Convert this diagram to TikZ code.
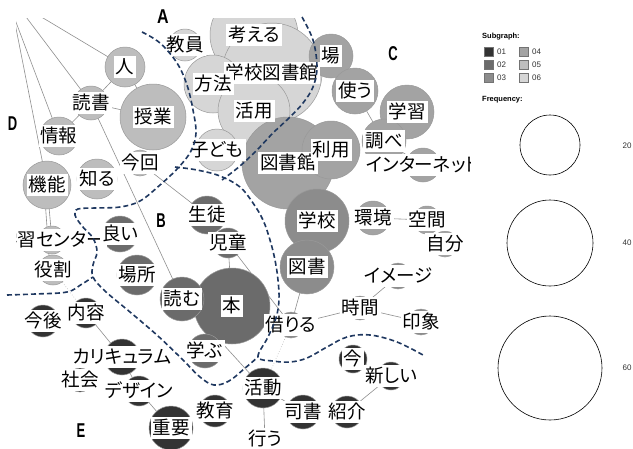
\documentclass[tikz,border=0pt]{standalone}
\usepackage{fontspec}
\usepackage{graphicx}
\newfontfamily\jp[RawFeature=+palt]{Noto Sans CJK JP}
\newfontfamily\lgf{Liberation Sans}
\definecolor{sgA}{HTML}{333333}
\definecolor{sgB}{HTML}{6B6B6B}
\definecolor{sgC}{HTML}{8C8C8C}
\definecolor{sgD}{HTML}{A3A3A3}
\definecolor{sgE}{HTML}{BDBDBD}
\definecolor{sgF}{HTML}{D6D6D6}
\definecolor{bnd}{HTML}{1F3860}
\definecolor{edgec}{HTML}{8F8F8F}
\tikzset{
  word/.style={fill=white, inner xsep=2pt, inner ysep=1.5pt, text height=15.5pt, text depth=3.5pt,
    font={\jp\fontsize{18.5}{20}\selectfont}},
  bub/.style={circle, draw=black!40, line width=0.5pt, inner sep=0pt},
  edgeline/.style={draw=edgec, line width=0.6pt},
  dotedge/.style={draw=edgec!70, line width=0.6pt, dotted},
  bound/.style={draw=bnd, line width=1.6pt, dash pattern=on 5pt off 3pt},
  grp/.style={font={\lgf\bfseries\fontsize{20}{20}\selectfont}, inner sep=0pt},
  lgtext/.style={font={\lgf\fontsize{8}{9}\selectfont}, text=black!80, inner sep=0pt},
  lgtitle/.style={font={\lgf\bfseries\fontsize{7.5}{8}\selectfont}, inner sep=0pt, anchor=west},
  lgsq/.style={draw=black!55, line width=0.4pt}
}
\def\nodelist{%
kangaeru/254/35/44/sgF/考える,
gtosho/272/73/50/sgF/学校図書館,
hoho/213/84/29/sgF/方法,
katsuyo/254/111/36/sgF/活用,
kyoin/185/45/16/sgF/教員,
kodomo/217/150/21/sgF/子ども,
hito/125/67/20/sgE/人,
jugyo/153/117/33/sgE/授業,
dokusho/91/103/17/sgE/読書,
joho/59/136/19/sgE/情報,
kino/47/185/24/sgE/機能,
shiru/97/179/20/sgE/知る,
konkai/140/163/13/sgE/今回,
center/52/240/14/sgE/学習センター,
yakuwari/53/270/15/sgE/役割,
ba/331/56/22/sgD/場,
tsukau/355/91/23/sgD/使う,
gakushu/407/112/27/sgD/学習,
toshokan/288/163/46/sgD/図書館,
riyo/331/150/29/sgD/利用,
shirabe/384/141/22/sgD/調べ,
internet/423/165/17/sgD/インターネット,
kankyo/373/218/17/sgD/環境,
kukan/427/220/14/sgD/空間,
jibun/445/244/13/sgD/自分,
gakko/317/221/32/sgC/学校,
tosho/307/267/27/sgC/図書,
kariru/291/325/13/sgC/借りる,
jikan/360/308/12/sgC/時間,
image/398/276/13/sgC/イメージ,
insho/421/322/13/sgC/印象,
seito/207/215/19/sgB/生徒,
jido/228/243/15/sgB/児童,
yoi/120/234/18/sgB/良い,
basho/137/275/20/sgB/場所,
hon/232/306/38/sgB/本,
yomu/182/299/22/sgB/読む,
manabu/205/351/17/sgB/学ぶ,
kongo/43/321/16/sgA/今後,
naiyo/86/313/15/sgA/内容,
kari/122/357/18/sgA/カリキュラム,
shakai/80/380/12/sgA/社会,
design/139/391/15/sgA/デザイン,
juyo/171/428/22/sgA/重要,
kyoiku/215/411/16/sgA/教育,
katsudo/263/388/20/sgA/活動,
okonau/265/439/9/sgA/行う,
shisho/303/412/17/sgA/司書,
shokai/347/412/16/sgA/紹介,
atarashii/391/376/14/sgA/新しい,
ima/353/359/14/sgA/今}
\begin{document}
\begin{tikzpicture}[x=1pt,y=-1pt]
\useasboundingbox (0,0) rectangle (633,448);
\fill[white] (0,0) rectangle (633,448);
% ---------------- network -----------------
\begin{scope}
\clip (16,18) rectangle (470,448);
\foreach \nm/\px/\py/\rad/\col/\txt in \nodelist {\coordinate (\nm) at (\px,\py);}
\coordinate (o1) at (18,3);
\coordinate (o2) at (14,1);
\coordinate (o3) at (8,1);
\coordinate (o4) at (11,3);
% edges
\draw[edgeline] (o1) -- (hito);
\draw[edgeline] (o2) -- (dokusho);
\draw[edgeline] (o3) -- (joho);
\draw[edgeline] (o4) -- (kino);
\draw[edgeline] (dokusho) -- (hito);
\draw[edgeline] (hito) -- (jugyo);
\draw[edgeline] (dokusho) -- (jugyo);
\draw[edgeline] (dokusho) -- (joho);
\draw[edgeline] (dokusho) -- (yomu);
\draw[edgeline] (konkai) -- (seito);
\draw[edgeline] (kino) -- (center);
\draw[edgeline] ([xshift=-3pt]kino) -- ([xshift=-3pt]yakuwari);
\draw[dotedge] (yakuwari) -- (naiyo);
\draw[edgeline] (naiyo) -- (kari);
\draw[edgeline] (kari) -- (design);
\draw[edgeline] (design) -- (juyo);
\draw[edgeline] (yomu) -- (katsudo);
\draw[edgeline] (jido) -- (hon);
\draw[edgeline] (jido) -- (kariru);
\draw[edgeline] (tosho) -- (kariru);
\draw[edgeline] (kariru) -- (jikan);
\draw[edgeline] (jikan) -- (image);
\draw[edgeline] (jikan) -- (insho);
\draw[dotedge] (kariru) -- (katsudo);
\draw[edgeline] (katsudo) -- (okonau);
\draw[edgeline] (katsudo) -- (shisho);
\draw[edgeline] (shokai) -- (atarashii);
\draw[edgeline] (ima) -- (atarashii);
\draw[edgeline] (kankyo) -- (kukan);
\draw[edgeline] (tsukau) -- (shirabe);
\draw[edgeline] (shirabe) -- (internet);
% circles
\foreach \nm/\px/\py/\rad/\col/\txt in \nodelist
  {\node[bub, fill=\col, minimum size={2*\rad*1pt}] (c\nm) at (\nm) {};}
% labels
\foreach \nm/\px/\py/\rad/\col/\txt in \nodelist
  {\node[word] (w\nm) at (\nm) {\txt};}
\end{scope}
% ---------------- boundaries -----------------
\draw[bound] plot[smooth, tension=0.6] coordinates {(142,32) (160,43) (177,63) (187,85) (193,110) (196,133) (191,151) (178,168) (160,185) (140,201) (120,207) (95,208) (78,209) (75,215) (82,226) (93,238) (97,252) (93,265) (93,277) (105,291) (130,312) (158,336) (183,360) (200,377) (214,385) (229,381) (244,369) (258,357)};
\draw[bound] plot[smooth, tension=0.6] coordinates {(175,167) (197,170) (220,176) (240,187) (253,203) (263,220) (270,240) (275,260) (278,280) (279,300) (276,318) (268,337) (258,357) (273,361) (290,362) (307,358) (327,347) (347,337) (370,335) (397,342) (423,355)};
\draw[bound] plot[smooth, tension=0.6] coordinates {(302,17) (313,40) (317,67) (313,87) (303,103) (290,117) (273,133) (257,150) (240,166) (222,180)};
\draw[bound] plot[smooth, tension=0.6] coordinates {(7,295) (35,294) (67,292) (82,284) (93,277)};
% ---------------- group letters -----------------
\node[grp] (gA) at (163,17) {\scalebox{0.8}[1]{A}};
\node[grp] (gB) at (161,221) {\scalebox{0.65}[1]{B}};
\node[grp] (gC) at (393,54) {\scalebox{0.65}[1]{C}};
\node[grp] (gD) at (12.5,124) {\scalebox{0.65}[1]{D}};
\node[grp] (gE) at (81,431) {\scalebox{0.65}[1]{E}};
% ---------------- legend -----------------
\node[lgtitle] (lsub) at (482,37) {Subgraph:};
\draw[lgsq, fill=sgA] (484,47) rectangle (493,56);
\draw[lgsq, fill=sgB] (484,60) rectangle (493,69);
\draw[lgsq, fill=sgC] (484,73) rectangle (493,82);
\draw[lgsq, fill=sgD] (519,47) rectangle (528,56);
\draw[lgsq, fill=sgE] (519,60) rectangle (528,69);
\draw[lgsq, fill=sgF] (519,73) rectangle (528,82);
\node[lgtext, anchor=west] (l01) at (497,51.5) {01};
\node[lgtext, anchor=west] (l02) at (497,64.5) {02};
\node[lgtext, anchor=west] (l03) at (497,77.5) {03};
\node[lgtext, anchor=west] (l04) at (532,51.5) {04};
\node[lgtext, anchor=west] (l05) at (532,64.5) {05};
\node[lgtext, anchor=west] (l06) at (532,77.5) {06};
\node[lgtitle] (lfreq) at (482,100) {Frequency:};
\draw[line width=0.6pt] (550,145) circle[radius=30pt];
\draw[line width=0.6pt] (550,243) circle[radius=43pt];
\draw[line width=0.6pt] (550,368) circle[radius=52pt];
\node[lgtext] (f20) at (627,146) {20};
\node[lgtext] (f40) at (627,243) {40};
\node[lgtext] (f60) at (627,368) {60};
\end{tikzpicture}
\end{document}
